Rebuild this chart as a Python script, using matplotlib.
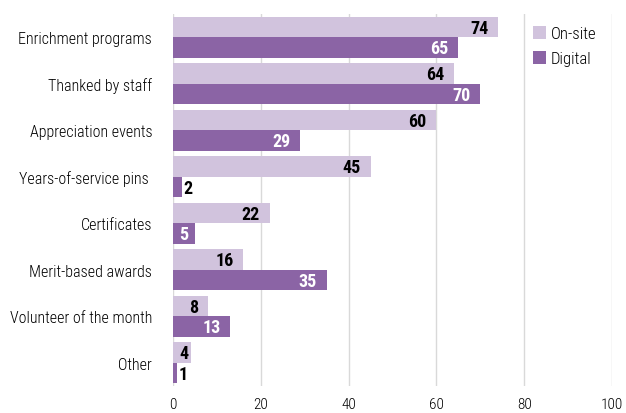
import matplotlib
matplotlib.use("Agg")
import matplotlib.pyplot as plt
from matplotlib import font_manager as fm

names = {f.name for f in fm.fontManager.ttflist}
narrow = next((n for n in ["Liberation Sans Narrow", "Arial Narrow", "Roboto Condensed",
                           "Archivo Narrow", "PT Sans Narrow"] if n in names), "DejaVu Sans")
fam = [narrow, "DejaVu Sans"]

categories = ["Enrichment programs", "Thanked by staff", "Appreciation events",
              "Years-of-service pins ", "Certificates", "Merit-based awards",
              "Volunteer of the month", "Other"]
onsite = [74, 64, 60, 45, 22, 16, 8, 4]
digital = [65, 70, 29, 2, 5, 35, 13, 1]
xticks = [0, 20, 40, 60, 80, 100]

c_on = "#d1c3dd"
c_dig = "#8b64a5"

fig = plt.figure(figsize=(6.26, 4.14), dpi=100)
ax = fig.add_axes([173/626, 27/414, (612-173)/626, (387-15)/414])

y = list(range(len(categories)))
h = 0.44
ax.barh([v - h/2 for v in y], onsite, height=h, color=c_on, label="On-site", zorder=2)
ax.barh([v + h/2 for v in y], digital, height=h, color=c_dig, label="Digital", zorder=2)

fs = 13


def inside_x(v):
    wid = 1.6 * len(str(v))
    return max(v - 2.2, 1.9 + wid)


for i, (a, b) in enumerate(zip(onsite, digital)):
    ax.text(inside_x(a), i - h/2 + 0.02, str(a), ha="right", va="center", fontsize=fs,
            fontweight="bold", family=fam, color="black", zorder=3)
    if b >= 5:
        ax.text(inside_x(b), i + h/2 + 0.02, str(b), ha="right", va="center", fontsize=fs,
                fontweight="bold", family=fam, color="white", zorder=3)
    else:
        ax.text(b + 0.3, i + h/2 + 0.02, str(b), ha="left", va="center", fontsize=fs,
                fontweight="bold", family=fam, color="black", zorder=3)

ax.set_xlim(0, 100)
ax.set_ylim(len(categories) - 0.5, -0.5)
ax.set_xticks(xticks)
ax.set_xticklabels([str(t) for t in xticks], family=fam, fontsize=11, fontweight="light")
ax.set_yticks(y)
ax.set_yticklabels(categories, family=fam, fontsize=11.5, fontweight="light")
ax.tick_params(axis="both", length=0)
ax.tick_params(axis="y", pad=15)
ax.tick_params(axis="x", pad=8)
for s in ax.spines.values():
    s.set_visible(False)
ax.grid(axis="x", color="#d9d9d9", linewidth=1, zorder=0)
ax.set_axisbelow(True)

leg = ax.legend(loc="upper left", bbox_to_anchor=(0.805, 0.985), frameon=False,
                prop={"family": fam, "size": 12, "weight": "light"}, handlelength=0.75,
                handleheight=0.75, handletextpad=0.3, labelspacing=0.6, borderaxespad=0)

fig.savefig("out.png", dpi=100)
